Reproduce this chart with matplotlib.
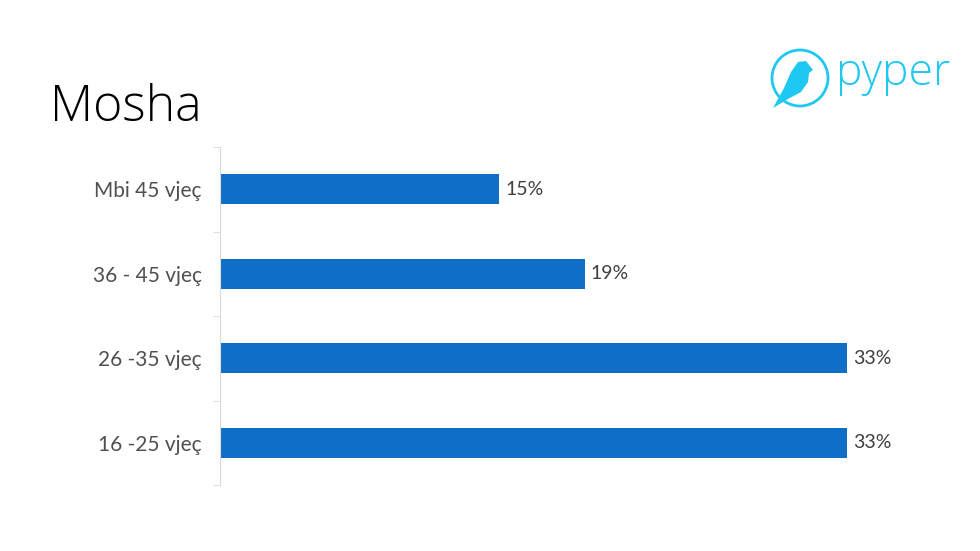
import matplotlib.pyplot as plt
from matplotlib.patches import Circle, Polygon

categories = ['16 -25 vjeç', '26 -35 vjeç', '36 - 45 vjeç', 'Mbi 45 vjeç']
values = [33.0, 33.0, 19.2, 14.7]
labels = ['33%', '33%', '19%', '15%']

plt.rcParams['font.family'] = ['Lato', 'DejaVu Sans']

fig = plt.figure(figsize=(9.8, 5.51), dpi=100)
ax = fig.add_axes([220 / 980, 1 - 485 / 551, 680 / 980, 338 / 551])

bars = ax.barh(range(len(categories)), values, height=0.36, color='#0f6fc6')
ax.set_xlim(0, 680 / 19.0)
ax.set_ylim(-0.5, len(categories) - 0.5)

ax.set_yticks(range(len(categories)))
ax.set_yticklabels(categories, fontsize=15, color='#505050')
ax.set_yticks([i - 0.5 for i in range(len(categories) + 1)], minor=True)
ax.tick_params(axis='y', which='major', length=0, pad=13)
ax.tick_params(axis='y', which='minor', length=5, color='#d9d9d9')
ax.set_xticks([])

for s in ['top', 'right', 'bottom']:
    ax.spines[s].set_visible(False)
ax.spines['left'].set_color('#d9d9d9')

for b, lab in zip(bars, labels):
    ax.text(b.get_width() + 0.3, b.get_y() + b.get_height() / 2, lab,
            va='center', ha='left', fontsize=14, color='#404040')

fig.text(50 / 980, 1 - 108 / 551, 'Mosha', fontsize=36, family=['Open Sans', 'DejaVu Sans'],
         fontweight='light', color='black', va='center', ha='left')

# logo: circle, simple bird, wordmark
logo_color = '#1ec8f0'
px = lambda x, y: (x / 100, (551 - y) / 100)
circ = Circle(px(800, 78), 0.28, transform=fig.dpi_scale_trans,
              fill=False, ec=logo_color, lw=2)
fig.patches.append(circ)
bird = [px(813, 70), px(806, 61), px(798, 62), px(791, 72), px(784, 88),
        px(773, 108), px(788, 99), px(801, 92), px(808, 82), px(809, 73)]
fig.patches.append(Polygon(bird, closed=True, transform=fig.dpi_scale_trans,
                           fc=logo_color, ec='none'))
fig.text(836 / 980, 1 - 74 / 551, 'pyper', fontsize=32, family=['Open Sans', 'DejaVu Sans'],
         fontweight='light', color=logo_color, va='center', ha='left')

fig.savefig('out.png', dpi=100)
